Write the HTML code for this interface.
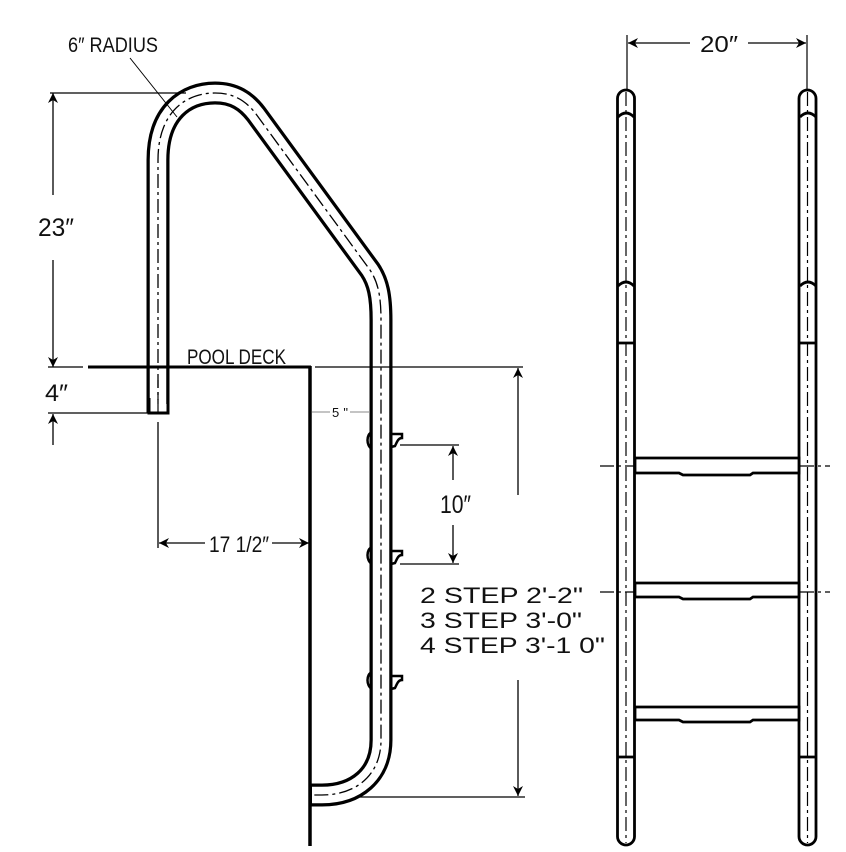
<!DOCTYPE html>
<html><head><meta charset="utf-8"><style>
html,body{margin:0;padding:0;background:#fff;}
svg{display:block;}
text{font-family:"Liberation Sans",sans-serif;fill:#111;}
</style></head><body>
<svg width="846" height="852" viewBox="0 0 846 852" xmlns="http://www.w3.org/2000/svg">
<defs>
<marker id="ah" viewBox="0 0 10 10" refX="10" refY="5" markerWidth="10" markerHeight="10" orient="auto-start-reverse" markerUnits="userSpaceOnUse">
<path d="M0,0 L10,5 L0,10 L3,5 z" fill="#000"/>
</marker>
</defs>
<g id="pipe">
<path d="M158,413 L158,160 C158,112 186,93 215,93 C234,93 246,101 256,114 L370,270 C378,282 381,296 381,320 L381,740 C381,775 356,795 322,795 L310,795" fill="none" stroke="#000" stroke-width="23"/>
<path d="M158,410 L158,160 C158,112 186,93 215,93 C234,93 246,101 256,114 L370,270 C378,282 381,296 381,320 L381,740 C381,775 356,795 322,795 L312,795" fill="none" stroke="#fff" stroke-width="16.5"/>
<path d="M158,413 L158,160 C158,112 186,93 215,93 C234,93 246,101 256,114 L370,270 C378,282 381,296 381,320 L381,740 C381,775 356,795 322,795 L312,795" fill="none" stroke="#000" stroke-width="1.3" stroke-dasharray="14,4,3,4"/>
</g>
<rect x="148" y="404" width="21" height="10" fill="#fff"/>
<path d="M149,398 L149,413 L168,413 L168,398" fill="none" stroke="#000" stroke-width="3"/>
<line x1="158" y1="380" x2="158" y2="413" stroke="#000" stroke-width="1.2" stroke-dasharray="8,4"/>
<line x1="88" y1="367" x2="311" y2="367" stroke="#000" stroke-width="3"/>
<line x1="310" y1="366" x2="310" y2="846" stroke="#000" stroke-width="3.5"/>
<line x1="50" y1="93" x2="186" y2="93" stroke="#000" stroke-width="1.3"/>
<line x1="48" y1="367" x2="83" y2="367" stroke="#000" stroke-width="1.3"/>
<line x1="315" y1="367" x2="523" y2="367" stroke="#000" stroke-width="1.3"/>
<line x1="48" y1="413" x2="150" y2="413" stroke="#000" stroke-width="1.3"/>
<line x1="53" y1="195" x2="53" y2="93" stroke="#000" stroke-width="1.3" marker-end="url(#ah)"/>
<line x1="53" y1="260" x2="53" y2="367" stroke="#000" stroke-width="1.3" marker-end="url(#ah)"/>
<line x1="53" y1="445" x2="53" y2="414" stroke="#000" stroke-width="1.3" marker-end="url(#ah)"/>
<text x="38" y="236" font-size="25" textLength="36" lengthAdjust="spacingAndGlyphs">23″</text>
<text x="45" y="401" font-size="24" textLength="23" lengthAdjust="spacingAndGlyphs">4″</text>
<text x="68" y="52" font-size="21" textLength="90" lengthAdjust="spacingAndGlyphs">6″ RADIUS</text>
<line x1="130" y1="58" x2="177" y2="117" stroke="#000" stroke-width="1"/>
<text x="187" y="364" font-size="21" textLength="99" lengthAdjust="spacingAndGlyphs">POOL DECK</text>
<line x1="158" y1="422" x2="158" y2="548" stroke="#000" stroke-width="1.3"/>
<line x1="205" y1="543" x2="159" y2="543" stroke="#000" stroke-width="1.3" marker-end="url(#ah)"/>
<line x1="272" y1="543" x2="309" y2="543" stroke="#000" stroke-width="1.3" marker-end="url(#ah)"/>
<text x="209" y="552" font-size="22" textLength="60" lengthAdjust="spacingAndGlyphs">17 1/2″</text>
<line x1="312" y1="412" x2="330" y2="412" stroke="#888" stroke-width="1"/>
<line x1="350" y1="412" x2="370" y2="412" stroke="#888" stroke-width="1"/>
<text x="332" y="417" font-size="13" textLength="16">5"</text>
<g stroke="#000" stroke-width="2.5" fill="none">
<path d="M372,432 C366,434 366,446 372,449"/><path d="M390,434 L402,434 L402,438 C398,438 397,442 395,446 L391,447"/>
<path d="M372,547 C366,549 366,561 372,564"/><path d="M390,551 L402,551 L402,555 C398,555 397,559 395,563 L391,564"/>
<path d="M372,672 C366,674 366,686 372,689"/><path d="M390,676 L402,676 L402,680 C398,680 397,684 395,688 L391,689"/>
</g>
<line x1="400" y1="445" x2="459" y2="445" stroke="#000" stroke-width="1.3"/>
<line x1="400" y1="564" x2="459" y2="564" stroke="#000" stroke-width="1.3"/>
<line x1="453" y1="480" x2="453" y2="446" stroke="#000" stroke-width="1.3" marker-end="url(#ah)"/>
<line x1="453" y1="525" x2="453" y2="563" stroke="#000" stroke-width="1.3" marker-end="url(#ah)"/>
<text x="440" y="513" font-size="25" textLength="31" lengthAdjust="spacingAndGlyphs">10″</text>
<line x1="360" y1="797" x2="525" y2="797" stroke="#000" stroke-width="1.3"/>
<line x1="518" y1="495" x2="518" y2="368" stroke="#000" stroke-width="1.3" marker-end="url(#ah)"/>
<line x1="518" y1="680" x2="518" y2="796" stroke="#000" stroke-width="1.3" marker-end="url(#ah)"/>
<g font-size="22">
<text x="420" y="603" textLength="163" lengthAdjust="spacingAndGlyphs">2 STEP 2'-2"</text>
<text x="420" y="628" textLength="162" lengthAdjust="spacingAndGlyphs">3 STEP 3'-0"</text>
<text x="420" y="653" textLength="185" lengthAdjust="spacingAndGlyphs">4 STEP 3'-1 0"</text>
</g>
<line x1="627" y1="35" x2="627" y2="92" stroke="#000" stroke-width="1.2"/>
<line x1="807" y1="35" x2="807" y2="92" stroke="#000" stroke-width="1.2"/>
<line x1="690" y1="43" x2="628" y2="43" stroke="#000" stroke-width="1.3" marker-end="url(#ah)"/>
<line x1="748" y1="43" x2="806" y2="43" stroke="#000" stroke-width="1.3" marker-end="url(#ah)"/>
<text x="700" y="52" font-size="23" textLength="38" lengthAdjust="spacingAndGlyphs">20″</text>
<g stroke="#000" stroke-width="2.8" fill="#fff">
<rect x="617.5" y="90" width="17" height="755" rx="8.5"/>
<rect x="799" y="90" width="17" height="755" rx="8.5"/>
</g>
<g stroke="#000" stroke-width="2.8" fill="none">
<path d="M618,117 Q626,109 634,117"/><path d="M800,117 Q808,109 816,117"/>
<path d="M618,286 Q626,278 634,286"/><path d="M800,286 Q808,278 816,286"/>
<path d="M618,343 H634 M800,343 H816 M618,757 H634 M800,757 H816"/>
</g>
<g stroke="#000" stroke-width="1.2" stroke-dasharray="14,4,3,4">
<line x1="626" y1="92" x2="626" y2="843"/><line x1="807.5" y1="92" x2="807.5" y2="843"/>
<line x1="600" y1="466" x2="830" y2="466"/><line x1="600" y1="592" x2="830" y2="592"/>
</g>
<g stroke="#000" stroke-width="2.8" fill="#fff">
<path d="M635,458 H799 V473 H753 L750,475 H683 L679,473 H635 Z"/>
<path d="M635,583 H799 V597 H753 L750,599 H683 L679,597 H635 Z"/>
<path d="M635,707 H799 V720 H753 L750,722 H683 L679,720 H635 Z"/>
</g>
</svg>
</body></html>
